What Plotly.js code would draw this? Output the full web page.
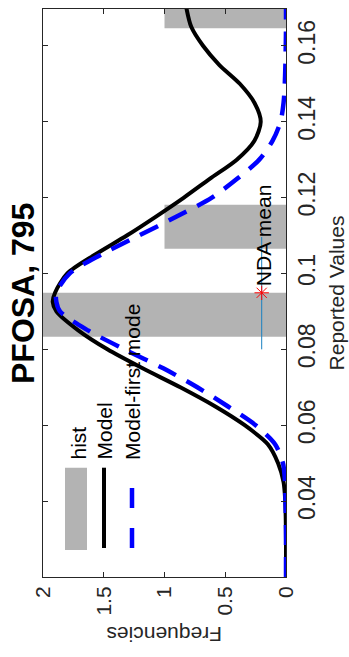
<!DOCTYPE html>
<html>
<head>
<meta charset="utf-8">
<script src="https://cdn.plot.ly/plotly-3.0.1.min.js"></script>
<style>html,body{margin:0;padding:0;background:#fff;}#chart{width:349px;height:657px;}</style>
</head>
<body>
<div id="chart"></div>
<script>
// Histogram (bins of the reported values)
const binCenters = [0.0891, 0.1123, 0.1704];
const binCounts  = [2, 1, 1];
const binWidth   = 0.0116;

// Sample points of reported value (vertical axis)
const values = [0.020, 0.025, 0.030, 0.035, 0.040, 0.045, 0.050, 0.055, 0.060, 0.065,
                0.070, 0.075, 0.080, 0.085, 0.090, 0.0925, 0.095, 0.100, 0.105, 0.110,
                0.115, 0.120, 0.125, 0.130, 0.135, 0.140, 0.145, 0.150, 0.155, 0.160,
                0.165, 0.170];
// Model (full mixture) frequencies
const modelFreq = [0, 0, 0, 0.002, 0.006, 0.02, 0.065, 0.15, 0.34, 0.585,
                   0.87, 1.18, 1.47, 1.71, 1.89, 1.92, 1.90, 1.80, 1.57, 1.31,
                   1.07, 0.84, 0.625, 0.405, 0.26, 0.208, 0.26, 0.38, 0.55, 0.683,
                   0.78, 0.82];
// Model first mode frequencies
const firstModeFreq = [0, 0, 0, 0.001, 0.004, 0.008, 0.025, 0.09, 0.25, 0.48,
                       0.73, 1.01, 1.33, 1.63, 1.86, 1.89, 1.89, 1.78, 1.52, 1.21,
                       0.90, 0.61, 0.40, 0.22, 0.11, 0.045, 0.02, 0.01, 0.005, 0.002,
                       0.0, 0.0];

// NDA mean and its range
const ndaMean  = [0.0949];
const ndaRange = [0.0800, 0.1096];
const ndaLevel = [0.2];

// Tick labels
const freqTicks  = [0, 0.5, 1, 1.5, 2];
const freqLabels = ['0', '0.5', '1', '1.5', '2'];
const valTicks   = [0.04, 0.06, 0.08, 0.10, 0.12, 0.14, 0.16];
const valLabels  = ['0.04', '0.06', '0.08', '0.1', '0.12', '0.14', '0.16'];

const FONT = 'Liberation Sans, Arial, Helvetica, sans-serif';
const AX = '#262626';

const traces = [
  {type: 'bar', orientation: 'h', y: binCenters, x: binCounts, width: binWidth,
   marker: {color: '#b3b3b3', line: {width: 0}}, hoverinfo: 'skip', showlegend: false},
  {type: 'scatter', mode: 'lines', x: modelFreq, y: values,
   line: {color: '#000000', width: 4, shape: 'spline', smoothing: 0.8}, showlegend: false},
  {type: 'scatter', mode: 'lines', x: firstModeFreq, y: values,
   line: {color: '#0000ff', width: 4.5, dash: '20px,12px', shape: 'spline', smoothing: 0.8}, showlegend: false},
  {type: 'scatter', mode: 'lines', x: [ndaLevel[0], ndaLevel[0]], y: ndaRange,
   line: {color: '#1a80c0', width: 1}, showlegend: false},
  {type: 'scatter', mode: 'markers', x: ndaLevel, y: ndaMean,
   marker: {symbol: 'asterisk-open', size: 12, color: '#ff0000', line: {color: '#ff0000', width: 1}},
   showlegend: false}
];

const px = (p) => (p - 43) / 243;   // helper for paper x of legend
const py = (p) => (577 - p) / 568;  // helper for paper y of legend

const layout = {
  width: 349, height: 657,
  margin: {l: 43, r: 63, t: 9, b: 80, autoexpand: false},
  paper_bgcolor: '#ffffff', plot_bgcolor: '#ffffff',
  showlegend: false,
  font: {family: FONT, size: 21, color: AX},
  xaxis: {
    range: [2, 0], tickvals: freqTicks, ticktext: freqLabels, tickangle: -90,
    ticks: 'inside', ticklen: 5, tickcolor: AX, showline: true, linecolor: AX, linewidth: 1,
    mirror: 'ticks', showgrid: false, zeroline: false,
    tickfont: {family: FONT, size: 21, color: AX}
  },
  yaxis: {
    side: 'right', range: [0.02, 0.1697], tickvals: valTicks, ticktext: valLabels, tickangle: -90,
    ticks: 'inside', ticklen: 5, tickcolor: AX, showline: true, linecolor: AX, linewidth: 1,
    mirror: 'ticks', showgrid: false, zeroline: false,
    tickfont: {family: FONT, size: 23, color: AX},
    title: {text: 'Reported Values', font: {family: FONT, size: 21, color: AX}, standoff: 10}
  },
  shapes: [
    {type: 'rect', xref: 'paper', yref: 'paper', x0: px(65), x1: px(87), y0: py(550), y1: py(467.7),
     fillcolor: '#b3b3b3', line: {width: 0}},
    {type: 'line', xref: 'paper', yref: 'paper', x0: px(104), x1: px(104), y0: py(548), y1: py(467.7),
     line: {color: '#000000', width: 4}},
    {type: 'line', xref: 'paper', yref: 'paper', x0: px(132), x1: px(132), y0: py(548), y1: py(488),
     line: {color: '#0000ff', width: 4.5, dash: '20px,20px'}}
  ],
  annotations: [
    {text: '<b>PFOSA, 795</b>', xref: 'paper', yref: 'paper', x: px(23), y: py(294),
     xanchor: 'center', yanchor: 'middle', textangle: -90, showarrow: false,
     font: {family: FONT, size: 32, color: '#000000'}},
    {text: 'Frequencies', xref: 'paper', yref: 'paper', x: px(164), y: py(635),
     xanchor: 'center', yanchor: 'middle', textangle: 180, showarrow: false,
     font: {family: FONT, size: 21, color: AX}},
    {text: 'NDA mean', xref: 'x', yref: 'y', x: 0.19, y: 0.0961,
     xanchor: 'center', yanchor: 'bottom', textangle: -90, showarrow: false,
     font: {family: FONT, size: 21, color: '#000000'}},
    {text: 'hist', xref: 'paper', yref: 'paper', x: px(78), y: py(462),
     xanchor: 'center', yanchor: 'bottom', textangle: -90, showarrow: false,
     font: {family: FONT, size: 21, color: '#000000'}},
    {text: 'Model', xref: 'paper', yref: 'paper', x: px(104), y: py(462),
     xanchor: 'center', yanchor: 'bottom', textangle: -90, showarrow: false,
     font: {family: FONT, size: 21, color: '#000000'}},
    {text: 'Model-first mode', xref: 'paper', yref: 'paper', x: px(132), y: py(462),
     xanchor: 'center', yanchor: 'bottom', textangle: -90, showarrow: false,
     font: {family: FONT, size: 21, color: '#000000'}}
  ]
};

Plotly.newPlot('chart', traces, layout, {staticPlot: true, displayModeBar: false});
</script>
</body>
</html>
